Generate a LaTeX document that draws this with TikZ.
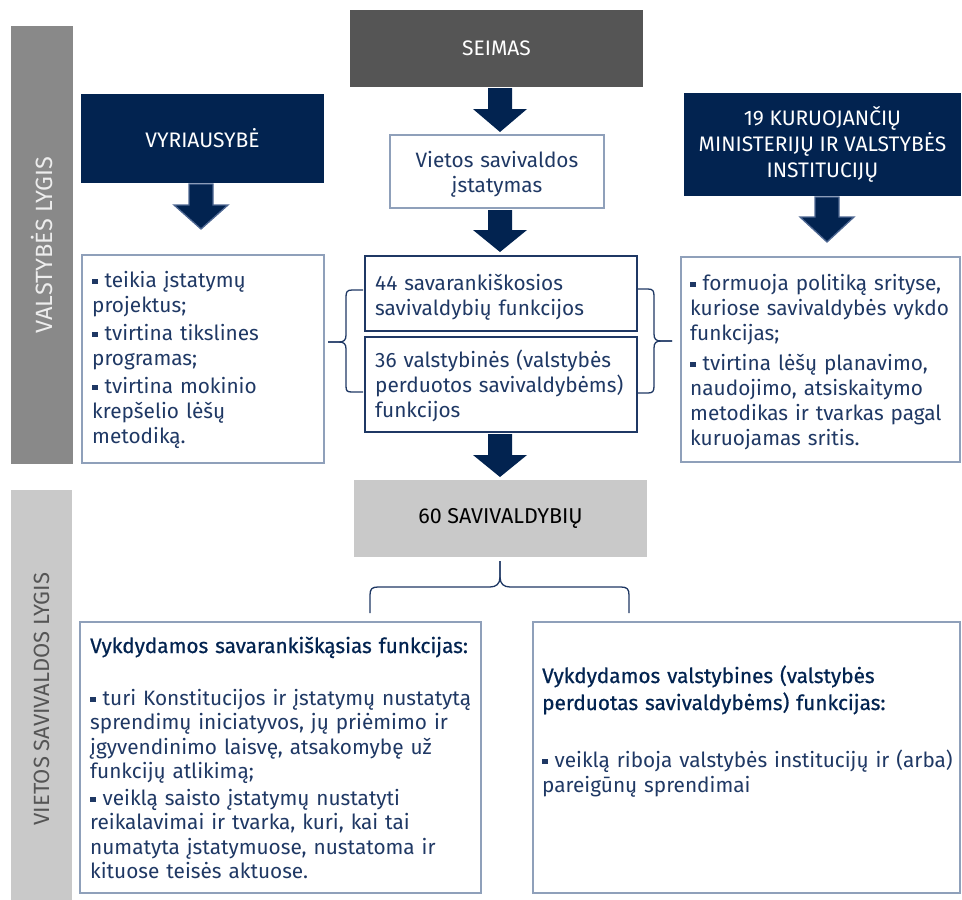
\documentclass[tikz,border=0pt]{standalone}
\usepackage{fontspec}
\setmainfont{Fira Sans}
\newfontfamily\ttlfont{Fira Sans}[FakeBold=0.7]
\definecolor{navy}{HTML}{022350}
\definecolor{ink}{HTML}{1F3864}
\definecolor{bluegray}{HTML}{8FA0BA}
\definecolor{arrowedge}{HTML}{4E6792}
\definecolor{darkgray}{HTML}{555555}
\definecolor{sidegray}{HTML}{898989}
\definecolor{lightgray}{HTML}{C9C9C9}
\newcommand{\bul}{\raisebox{0.13em}{\rule{0.27em}{0.27em}}\hspace{0.33em}}
\newcommand{\bodysize}{\fontsize{20.8}{25}\selectfont}
\tikzset{
  fillbox/.style={rectangle, inner sep=0pt, align=center},
  navybox/.style={fillbox, fill=navy, text=white, font=\fontsize{21}{26}\selectfont},
  linebox/.style={rectangle, inner sep=0pt, draw=bluegray, line width=1.4pt},
  strongbox/.style={rectangle, inner sep=0pt, draw=ink, line width=2pt},
  bodytext/.style={inner sep=0pt, anchor=base west, align=left, text width=420pt, text=ink, font=\bodysize},
  titletext/.style={inner sep=0pt, anchor=base west, align=left, text width=420pt, text=navy, font=\ttlfont\fontsize{20.8}{27}\selectfont},
  bracestyle/.style={draw=ink, line width=1.3pt},
  plainarrow/.style={fill=navy},
  edgearrow/.style={fill=navy, draw=arrowedge, line width=1.3pt, line join=miter},
}
\newcommand{\blockarrow}[5]{% style, cx, ytop, yneck, ytip
  \path[#1] ({#2-12},#3) -- ({#2+12},#3) -- ({#2+12},#4) -- ({#2+27},#4) -- (#2,#5) -- ({#2-27},#4) -- ({#2-12},#4) -- cycle;}
\begin{document}
\begin{tikzpicture}[x=1pt,y=-1pt]
\useasboundingbox (0,0) rectangle (962,900);

% side bars
\node[fillbox, fill=sidegray, minimum width=62pt, minimum height=438pt] (sideTop) at (42,245) {};
\node[rotate=90, text=white!85!sidegray, font=\fontsize{23.5}{26}\selectfont, inner sep=0pt] (sideTopT) at (sideTop.center) {VALSTYBĖS LYGIS};
\node[fillbox, fill=lightgray, minimum width=61pt, minimum height=410pt] (sideBot) at (41.5,695) {};
\node[rotate=90, text=darkgray, font=\fontsize{22}{26}\selectfont, inner sep=0pt] (sideBotT) at (41.5,699) {VIETOS SAVIVALDOS LYGIS};

% top boxes
\node[navybox, fill=darkgray, minimum width=293pt, minimum height=77pt] (seimas) at (496.5,48.5) {SEIMAS};
\node[navybox, minimum width=243pt, minimum height=89pt] (vyr) at (202.5,138.5) {VYRIAUSYBĖ};
\node[navybox, minimum width=277pt, minimum height=103pt] (kur) at (822.5,144.5) {19 KURUOJANČIŲ\\MINISTERIJŲ IR VALSTYBĖS\\INSTITUCIJŲ};

\node[linebox, minimum width=214pt, minimum height=73pt] (law) at (497,171.5) {};
\node[inner sep=0pt, anchor=base, align=center, text width=214pt, text=ink, font=\bodysize] (lawT) at (497,167) {Vietos savivaldos\\įstatymas};

\node[strongbox, minimum width=272pt, minimum height=75pt] (f44) at (501,293.5) {};
\node[bodytext] (f44T) at (375,290) {44 savarankiškosios\\savivaldybių funkcijos};
\node[strongbox, minimum width=272pt, minimum height=95pt] (f36) at (501,384.5) {};
\node[bodytext] (f36T) at (375,367) {36 valstybinės (valstybės\\perduotos savivaldybėms)\\funkcijos};

\node[linebox, minimum width=242pt, minimum height=208pt] (gov) at (203,359) {};
\node[bodytext] (govT) at (92,287) {\bul teikia įstatymų\\projektus;\\[3pt]\bul tvirtina tikslines\\programas;\\[3pt]\bul tvirtina mokinio\\krepšelio lėšų\\metodiką.};

\node[linebox, minimum width=279pt, minimum height=205pt] (min) at (820.5,359.5) {};
\node[bodytext] (minT) at (690,290) {\bul formuoja politiką srityse,\\kuriose savivaldybės vykdo\\funkcijas;\\[5pt]\bul tvirtina lėšų planavimo,\\naudojimo, atsiskaitymo\\metodikas ir tvarkas pagal\\kuruojamas sritis.};

\node[fillbox, fill=lightgray, minimum width=293pt, minimum height=77pt, font=\fontsize{21.5}{25}\selectfont, text=black] (sav) at (500.5,518.5) {60 SAVIVALDYBIŲ};

\node[linebox, minimum width=401pt, minimum height=271pt] (indep) at (280.5,757.5) {};
\node[titletext] (indepH) at (90,653) {Vykdydamos savarankiškąsias funkcijas:};
\node[bodytext, font=\fontsize{20.8}{24.5}\selectfont] (indepT) at (90,705) {\bul turi Konstitucijos ir įstatymų nustatytą\\sprendimų iniciatyvos, jų priėmimo ir\\įgyvendinimo laisvę, atsakomybę už\\funkcijų atlikimą;\\[2pt]\bul veiklą saisto įstatymų nustatyti\\reikalavimai ir tvarka, kuri, kai tai\\numatyta įstatymuose, nustatoma ir\\kituose teisės aktuose.};

\node[linebox, minimum width=427pt, minimum height=271pt] (deleg) at (746.5,757.5) {};
\node[titletext] (delegH) at (542,683) {Vykdydamos valstybines (valstybės\\perduotas savivaldybėms) funkcijas:};
\node[bodytext] (delegT) at (542,767) {\bul veiklą riboja valstybės institucijų ir (arba)\\pareigūnų sprendimai};

% block arrows
\blockarrow{plainarrow}{500}{88}{109}{132}
\blockarrow{plainarrow}{500}{210}{230}{252}
\blockarrow{plainarrow}{500}{434}{455}{477}
\blockarrow{edgearrow}{201}{184}{205}{229}
\blockarrow{edgearrow}{827}{197}{217}{242}

% braces
\coordinate (lbtip) at (328,342);
\path[bracestyle] (363,290) -- (352,290) .. controls (347,290) and (346,292) .. (346,297) -- (346,335) .. controls (346,340) and (344,342) .. (339,342) -- (lbtip);
\path[bracestyle] (lbtip) -- (339,342) .. controls (344,342) and (346,344) .. (346,349) -- (346,386) .. controls (346,391) and (347,392) .. (352,392) -- (363,392);
\coordinate (rbtip) at (672,341);
\path[bracestyle] (637,289) -- (648,289) .. controls (653,289) and (654,291) .. (654,296) -- (654,334) .. controls (654,339) and (656,341) .. (661,341) -- (rbtip);
\path[bracestyle] (rbtip) -- (661,341) .. controls (656,341) and (654,343) .. (654,348) -- (654,386) .. controls (654,391) and (653,393) .. (648,393) -- (637,393);
\coordinate (bbtip) at (500,561);
\path[bracestyle] (370,613) -- (370,595) .. controls (370,589) and (372,587) .. (378,587) -- (490,587) .. controls (496,587) and (500,584) .. (500,577) -- (bbtip);
\path[bracestyle] (bbtip) -- (500,577) .. controls (500,584) and (504,587) .. (510,587) -- (621,587) .. controls (627,587) and (629,589) .. (629,595) -- (629,613);
\end{tikzpicture}
\end{document}
